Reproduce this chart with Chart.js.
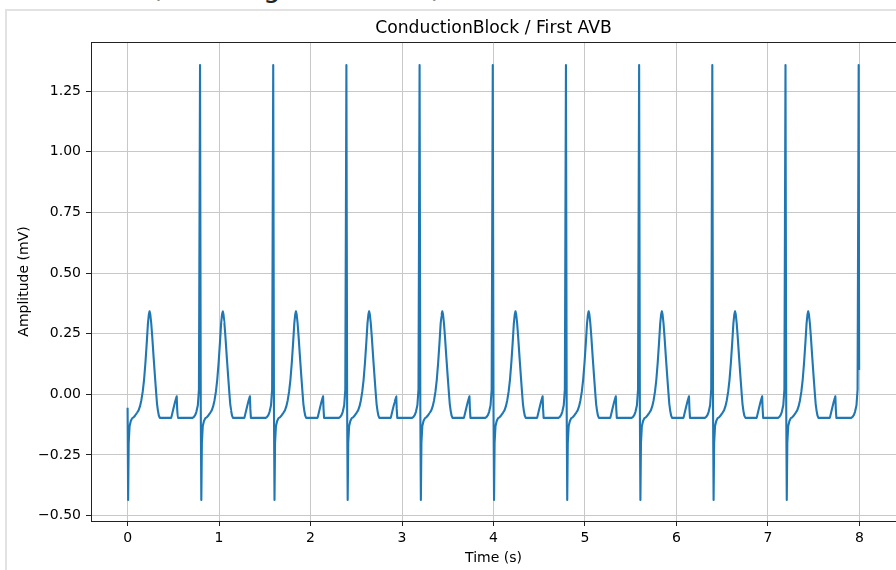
<!DOCTYPE html>
<html>
<head>
<meta charset="utf-8">
<script src="https://cdn.jsdelivr.net/npm/chart.js@4.4.1/dist/chart.umd.min.js"></script>
<style>
  html, body { margin: 0; padding: 0; background: #fff; overflow: hidden; }
  #page { position: relative; width: 896px; height: 570px; overflow: hidden; }
  #card { position: absolute; left: 5px; top: 9px; width: 1000px; height: 1000px;
          border: 2px solid #e2e2e2; box-sizing: border-box; }
  #heading { position: absolute; left: 151px; top: -26px; font: 28px "DejaVu Sans";
             line-height: 28px; white-space: nowrap; color: #222; }
  canvas { position: absolute; left: 0; top: 0; }
</style>
</head>
<body>
<div id="page">
  <div id="heading">(Showing 8 seconds)</div>
  <div id="card"></div>
  <canvas id="ecg" width="896" height="570"></canvas>
</div>
<script>
// valores (un latido cada 0.8 s)
const beatStarts = [0, 0.8, 1.6, 2.4, 3.2, 4.0, 4.8, 5.6, 6.4, 7.2]
const beatOffsets = [0.000, 0.006, 0.012, 0.022, 0.035, 0.050, 0.065, 0.085, 0.105, 0.120,
                     0.135, 0.150, 0.165, 0.180, 0.195, 0.210, 0.222, 0.232, 0.240, 0.248,
                     0.258, 0.270, 0.285, 0.300, 0.313, 0.322, 0.332, 0.342, 0.352,
                     0.477, 0.500, 0.520, 0.537, 0.542, 0.548, 0.710, 0.725, 0.740, 0.752,
                     0.768, 0.780, 0.792]
const beatValues = [-0.055, -0.435, -0.200, -0.130, -0.110, -0.098, -0.095, -0.086, -0.075, -0.066,
                    -0.050, -0.025, 0.010, 0.060, 0.130, 0.215, 0.290, 0.328, 0.342, 0.330,
                    0.295, 0.235, 0.150, 0.070, 0.003, -0.040, -0.068, -0.088, -0.097,
                    -0.097, -0.060, -0.030, -0.008, -0.060, -0.097, -0.097, -0.093, -0.085, -0.072,
                    -0.045, 0.020, 1.357]
const lastTime = 7.997
const lastValue = 0.1

const xTicks = [0, 1, 2, 3, 4, 5, 6, 7, 8]
const yTicks = [-0.5, -0.25, 0, 0.25, 0.5, 0.75, 1.0, 1.25]

const chartTitle = 'ConductionBlock / First AVB'
const xLabel = 'Time (s)'
const yLabel = 'Amplitude (mV)'

const fuente = 'DejaVu Sans'

function armar_puntos() {
    const puntos = []
    beatStarts.forEach(inicio => {
        beatOffsets.forEach((dt, i) => {
            puntos.push({ x: +(inicio + dt).toFixed(4), y: beatValues[i] })
        })
    })
    puntos.push({ x: lastTime, y: lastValue })
    return puntos
}

// borde superior y titulo del eje
const marco = {
    id: 'marco',
    afterDraw(chart) {
        const { ctx, chartArea } = chart
        ctx.save()
        ctx.strokeStyle = '#222'
        ctx.lineWidth = 1
        ctx.beginPath()
        ctx.moveTo(chartArea.left, chartArea.top + 0.5)
        ctx.lineTo(chartArea.right, chartArea.top + 0.5)
        ctx.stroke()
        ctx.fillStyle = '#000'
        ctx.font = '17.2px "' + fuente + '"'
        ctx.textAlign = 'center'
        ctx.textBaseline = 'alphabetic'
        ctx.fillText(chartTitle, (chartArea.left + chartArea.right) / 2, 33)
        ctx.restore()
    }
}

function grafico_ecg() {
    const ctx = document.getElementById('ecg')

    new Chart(ctx, {
        type: 'line',
        data: {
            datasets: [{
                data: armar_puntos(),
                borderColor: '#1f77b4',
                borderWidth: 2.1,
                borderJoinStyle: 'round',
                pointRadius: 0,
                // tension minima: evita el trazo "rapido" que junta puntos del mismo pixel
                tension: 0.000001,
                fill: false
            }]
        },
        options: {
            responsive: false,
            animation: false,
            devicePixelRatio: 1,
            layout: { padding: { left: 10, top: 42, right: 0, bottom: 0 } },
            plugins: {
                legend: { display: false },
                tooltip: { enabled: false },
                title: { display: false }
            },
            scales: {
                x: {
                    type: 'linear',
                    min: -0.4,
                    max: 8.4,
                    afterBuildTicks: s => { s.ticks = xTicks.map(v => ({ value: v })) },
                    afterFit: s => { s.height = 49 },
                    ticks: {
                        color: '#000',
                        font: { family: fuente, size: 14 },
                        padding: 4,
                        maxRotation: 0,
                        autoSkip: false,
                        callback: v => String(v)
                    },
                    grid: { color: '#c8c8c8', lineWidth: 1, tickLength: 5, tickColor: '#222', tickWidth: 1 },
                    border: { color: '#222', width: 1 },
                    title: {
                        display: true, text: xLabel, color: '#000',
                        font: { family: fuente, size: 14 },
                        padding: { top: 0, bottom: 3 }
                    }
                },
                y: {
                    type: 'linear',
                    min: -0.522,
                    max: 1.452,
                    afterBuildTicks: s => { s.ticks = yTicks.map(v => ({ value: v })) },
                    afterFit: s => { s.width = 81 },
                    ticks: {
                        color: '#000',
                        font: { family: fuente, size: 14 },
                        padding: 5,
                        autoSkip: false,
                        callback: v => Number(v).toFixed(2).replace('-', '\u2212')
                    },
                    grid: { color: '#c8c8c8', lineWidth: 1, tickLength: 5, tickColor: '#222', tickWidth: 1 },
                    border: { color: '#222', width: 1 },
                    title: {
                        display: true, text: yLabel, color: '#000',
                        font: { family: fuente, size: 14 },
                        padding: { top: 6, bottom: 0 }
                    }
                }
            }
        },
        plugins: [marco]
    })
}

grafico_ecg()
</script>
</body>
</html>
